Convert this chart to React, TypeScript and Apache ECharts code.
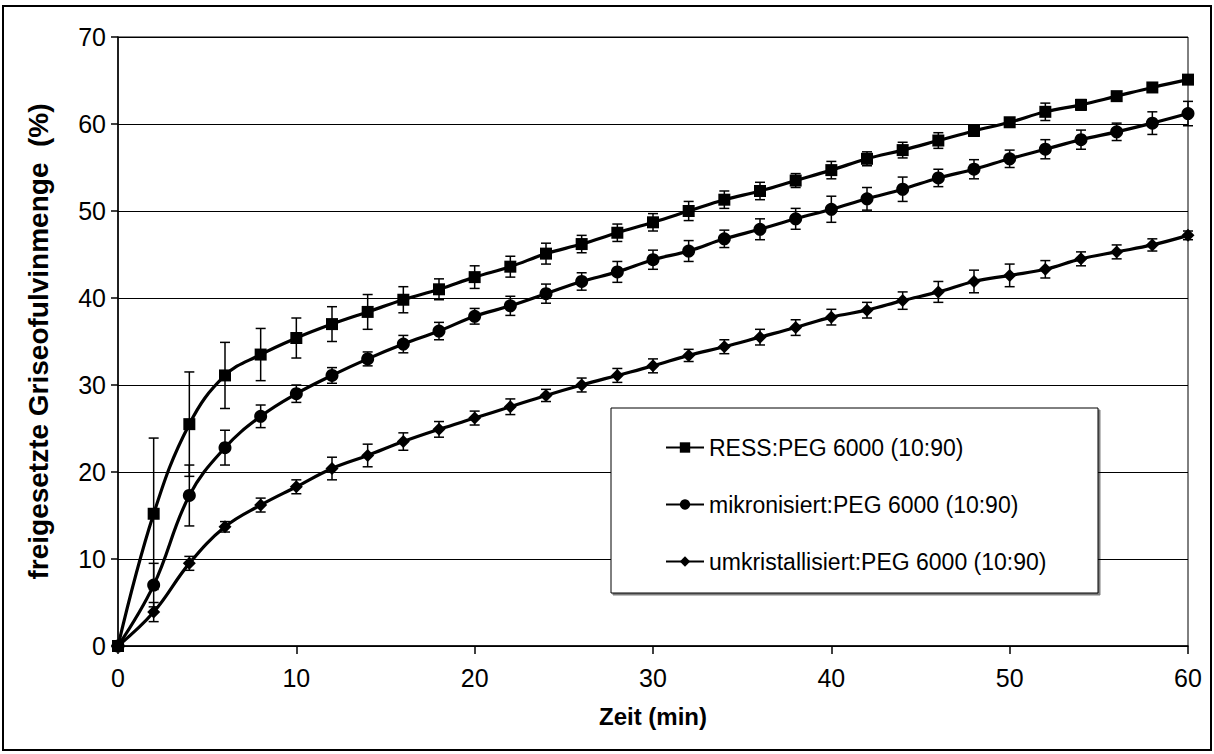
import React, { useEffect, useRef } from "react";
import * as echarts from "echarts";

const timeMin = [0, 2, 4, 6, 8, 10, 12, 14, 16, 18, 20, 22, 24, 26, 28, 30, 32, 34, 36, 38, 40, 42, 44, 46, 48, 50, 52, 54, 56, 58, 60];

const ressName = "RESS:PEG 6000 (10:90)";
const ressVals = [0, 15.2, 25.5, 31.1, 33.5, 35.4, 37.0, 38.4, 39.8, 41.0, 42.4, 43.6, 45.1, 46.2, 47.5, 48.7, 50.0, 51.3, 52.3, 53.5, 54.7, 56.0, 57.0, 58.1, 59.2, 60.2, 61.4, 62.2, 63.2, 64.2, 65.1];
const ressErr = [0, 8.7, 6.0, 3.8, 3.0, 2.3, 2.0, 2.0, 1.5, 1.2, 1.3, 1.2, 1.2, 1.0, 1.0, 1.0, 1.1, 1.0, 1.0, 0.8, 1.0, 0.8, 0.9, 0.9, 0.6, 0.4, 1.0, 0.6, 0.4, 0.4, 0.4];

const mikroName = "mikronisiert:PEG 6000 (10:90)";
const mikroVals = [0, 7.0, 17.3, 22.8, 26.4, 29.0, 31.1, 33.0, 34.7, 36.2, 37.9, 39.1, 40.5, 41.9, 43.0, 44.4, 45.4, 46.8, 47.9, 49.1, 50.2, 51.4, 52.5, 53.8, 54.8, 56.0, 57.1, 58.2, 59.1, 60.1, 61.2];
const mikroErr = [0, 2.5, 3.5, 2.0, 1.3, 1.0, 0.9, 0.8, 1.0, 1.0, 0.9, 1.1, 1.1, 1.0, 1.2, 1.1, 1.2, 1.0, 1.2, 1.2, 1.5, 1.3, 1.4, 1.0, 1.1, 1.0, 1.1, 1.1, 1.0, 1.3, 1.4];

const umkrName = "umkristallisiert:PEG 6000 (10:90)";
const umkrVals = [0, 3.9, 9.5, 13.7, 16.2, 18.3, 20.4, 21.9, 23.5, 24.9, 26.2, 27.5, 28.8, 30.0, 31.1, 32.2, 33.4, 34.4, 35.5, 36.6, 37.8, 38.6, 39.7, 40.7, 41.9, 42.6, 43.3, 44.5, 45.3, 46.1, 47.2];
const umkrErr = [0, 1.1, 0.8, 0.6, 0.8, 0.8, 1.3, 1.3, 1.0, 0.9, 0.8, 0.9, 0.7, 0.8, 0.8, 0.8, 0.7, 0.8, 0.9, 0.9, 0.9, 0.9, 1.0, 1.2, 1.3, 1.3, 1.0, 0.8, 0.8, 0.7, 0.5];

const xTitle = "Zeit (min)";
const yTitle = "freigesetzte Griseofulvinmenge  (%)";

const FONT = "'Liberation Sans', Arial, Helvetica, sans-serif";

function lineSeries(name: string, vals: number[], symbol: string, size: any) {
  return {
    name,
    type: "line",
    data: timeMin.map((t, i) => [t, vals[i]]),
    smooth: 0.4,
    symbol,
    symbolSize: size,
    showSymbol: true,
    lineStyle: { color: "#000", width: 3.2 },
    itemStyle: { color: "#000", borderWidth: 0 },
    z: 3,
  };
}

function errSeries(vals: number[], errs: number[]) {
  return {
    type: "custom",
    silent: true,
    z: 2,
    data: timeMin.map((t, i) => [t, vals[i], errs[i]]),
    renderItem: (params: any, api: any) => {
      const x = api.value(0);
      const y = api.value(1);
      const e = api.value(2);
      const top = api.coord([x, y + e]);
      const bot = api.coord([x, y - e]);
      const w = 5;
      const st = { stroke: "#000", lineWidth: 1.5 };
      return {
        type: "group",
        children: [
          { type: "line", shape: { x1: top[0], y1: top[1], x2: bot[0], y2: bot[1] }, style: st },
          { type: "line", shape: { x1: top[0] - w, y1: top[1], x2: top[0] + w, y2: top[1] }, style: st },
          { type: "line", shape: { x1: bot[0] - w, y1: bot[1], x2: bot[0] + w, y2: bot[1] }, style: st },
        ],
      };
    },
  };
}

export default function App() {
  const ref = useRef<HTMLDivElement>(null);
  useEffect(() => {
    if (!ref.current) return;
    const chart = echarts.init(ref.current, null, { renderer: "svg" });
    chart.setOption({
      animation: false,
      backgroundColor: "#fff",
      textStyle: { fontFamily: FONT },
      grid: {
        left: 118,
        right: 26,
        top: 37,
        bottom: 108,
        show: true,
        borderColor: "#000",
        borderWidth: 1,
        containLabel: false,
      },
      xAxis: {
        type: "value",
        min: 0,
        max: 60,
        interval: 10,
        name: xTitle,
        nameLocation: "middle",
        nameGap: 58,
        nameTextStyle: { fontFamily: FONT, fontSize: 24, fontWeight: "bold", color: "#000" },
        axisLine: { lineStyle: { color: "#000", width: 1.5 } },
        axisTick: { show: true, length: 8, lineStyle: { color: "#000", width: 1.5 } },
        axisLabel: { fontFamily: FONT, fontSize: 25, color: "#000", margin: 19 },
        splitLine: { show: false },
      },
      yAxis: {
        type: "value",
        min: 0,
        max: 70,
        interval: 10,
        name: yTitle,
        nameLocation: "middle",
        nameGap: 66,
        nameTextStyle: { fontFamily: FONT, fontSize: 28, fontWeight: "bold", color: "#000" },
        axisLine: { show: true, lineStyle: { color: "#000", width: 1.5 } },
        axisTick: { show: true, length: 7, lineStyle: { color: "#000", width: 1.5 } },
        axisLabel: { fontFamily: FONT, fontSize: 25, color: "#000", margin: 12 },
        splitLine: { show: true, lineStyle: { color: "#000", width: 1 } },
      },
      legend: {
        orient: "vertical",
        left: 660,
        top: 431,
        itemWidth: 38,
        itemHeight: 13,
        itemGap: 34,
        z: 6,
        textStyle: { fontFamily: FONT, fontSize: 23, color: "#000", lineHeight: 23 },
        data: [ressName, mikroName, umkrName],
      },
      graphic: [
        {
          type: "rect",
          z: 1,
          shape: { x: 3, y: 6, width: 1208, height: 744 },
          style: { fill: "none", stroke: "#000", lineWidth: 2 },
        },
        {
          type: "rect",
          z: 5,
          shape: { x: 611, y: 408, width: 487, height: 185 },
          style: {
            fill: "#fff",
            stroke: "#000",
            lineWidth: 1,
            shadowColor: "rgba(0,0,0,0.5)",
            shadowOffsetX: 2,
            shadowOffsetY: 2,
            shadowBlur: 0,
          },
        },
      ],
      series: [
        errSeries(ressVals, ressErr),
        errSeries(mikroVals, mikroErr),
        errSeries(umkrVals, umkrErr),
        lineSeries(ressName, ressVals, "rect", 12),
        lineSeries(mikroName, mikroVals, "circle", 13),
        lineSeries(umkrName, umkrVals, "diamond", [13, 13]),
      ],
    });
    return () => chart.dispose();
  }, []);
  return (
    <div
      ref={ref}
      style={{ position: "fixed", left: 0, top: 0, width: 1214, height: 754, background: "#fff" }}
    />
  );
}
